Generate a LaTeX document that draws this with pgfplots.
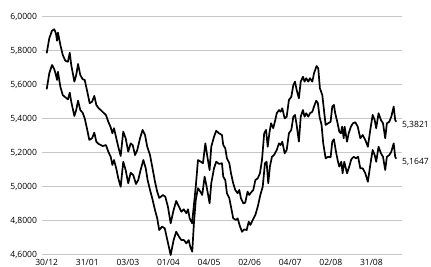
\documentclass[border=0pt]{standalone}
\usepackage{fontspec}
\setmainfont{Open Sans}
\usepackage{pgfplots}
\usepackage{pgfplotstable}
\pgfplotsset{compat=1.18}

\pgfplotstableread{
d v
0 5.785
1.4 5.873
2.9 5.918
4.1 5.926
5.0 5.902
5.6 5.859
6.1 5.906
7.4 5.834
8.7 5.775
10.1 5.741
11.5 5.735
12.5 5.788
13.3 5.716
15.0 5.618
16.0 5.657
17.0 5.722
18.2 5.657
19.5 5.632
20.6 5.628
21.8 5.569
23.3 5.491
24.6 5.500
25.8 5.534
26.9 5.481
28.2 5.461
29.3 5.451
30.4 5.439
32.1 5.422
33.4 5.382
34.7 5.349
35.6 5.314
36.5 5.344
37.6 5.291
38.8 5.235
40.1 5.181
41.5 5.324
42.8 5.285
44.2 5.206
45.5 5.255
46.6 5.245
47.9 5.186
49.1 5.216
50.6 5.285
52.0 5.334
53.3 5.304
54.5 5.235
56.0 5.186
57.2 5.118
58.7 5.029
59.9 4.971
61.0 4.934
61.9 4.941
63.0 4.951
64.3 4.941
65.7 4.882
67.2 4.785
68.8 4.863
70.2 4.916
71.7 4.882
73.0 4.853
74.3 4.867
75.7 4.844
76.6 4.867
77.5 4.814
78.8 4.785
79.7 4.882
80.8 5.000
82.0 5.157
83.5 5.147
84.7 5.138
86.0 5.255
87.1 5.176
88.3 5.098
89.2 5.235
90.7 5.294
91.9 5.329
93.4 5.314
95.0 5.304
95.7 5.245
96.8 5.226
97.7 5.167
99.0 5.138
99.9 5.079
101.1 5.020
102.2 4.981
103.5 4.961
104.4 4.981
105.3 4.932
106.6 4.902
107.6 4.906
108.9 4.971
109.8 4.951
110.7 4.965
112.0 4.981
113.1 5.039
114.4 5.049
115.6 5.079
116.7 5.157
117.9 5.314
118.9 5.334
119.8 5.235
120.7 5.314
121.6 5.373
122.8 5.344
123.9 5.392
124.7 5.432
125.9 5.451
126.8 5.441
127.7 5.461
129.0 5.402
130.1 5.412
131.3 5.510
132.6 5.529
133.7 5.598
134.6 5.618
135.5 5.569
136.7 5.520
137.7 5.618
138.9 5.647
139.8 5.618
140.7 5.638
141.8 5.618
142.7 5.638
144.0 5.618
144.9 5.667
146.3 5.710
147.2 5.696
148.1 5.579
149.4 5.539
150.3 5.451
151.2 5.363
152.5 5.373
153.9 5.382
154.8 5.471
155.7 5.481
156.4 5.432
157.7 5.373
158.6 5.324
159.5 5.314
160.1 5.353
161.0 5.285
161.5 5.353
162.8 5.265
163.7 5.314
164.9 5.353
166.0 5.373
167.3 5.379
168.6 5.353
170.0 5.285
171.3 5.304
172.7 5.275
174.1 5.235
175.4 5.334
176.7 5.422
177.8 5.392
178.6 5.344
179.9 5.432
181.2 5.392
182.3 5.373
183.5 5.285
184.4 5.373
185.7 5.382
186.8 5.412
188.1 5.471
188.9 5.392
189.5 5.3821
}\upperdata

\pgfplotstableread{
d v
0 5.573
1.4 5.667
2.9 5.716
4.1 5.691
5.0 5.657
5.6 5.628
6.1 5.676
7.4 5.588
8.7 5.539
10.1 5.526
11.5 5.514
12.5 5.553
13.3 5.500
15.0 5.416
16.0 5.451
17.0 5.506
18.2 5.451
19.5 5.435
20.6 5.402
21.8 5.344
23.1 5.275
24.6 5.285
25.8 5.318
26.9 5.265
28.2 5.251
29.3 5.245
30.4 5.239
32.1 5.245
33.4 5.206
34.7 5.176
35.6 5.128
36.5 5.157
37.9 5.098
38.8 5.049
40.1 5.000
41.5 5.147
42.8 5.098
44.2 5.020
45.5 5.082
46.9 5.069
48.4 5.016
49.6 5.039
50.9 5.098
52.4 5.157
53.7 5.108
54.7 5.039
56.0 4.981
57.2 4.932
58.7 4.863
59.9 4.814
61.0 4.745
62.5 4.765
64.0 4.755
65.4 4.686
67.2 4.598
68.8 4.686
70.2 4.735
71.7 4.706
73.0 4.686
74.4 4.686
75.7 4.667
77.0 4.686
77.8 4.647
78.9 4.618
79.8 4.785
80.8 4.922
82.0 4.991
83.3 4.971
84.3 4.951
85.6 5.059
86.7 5.000
88.3 4.902
89.2 5.020
90.7 5.108
91.9 5.147
93.4 5.134
95.0 5.138
95.7 5.059
96.8 5.039
97.7 4.961
99.0 4.932
99.9 4.882
101.1 4.814
102.6 4.804
103.5 4.814
104.8 4.765
105.9 4.735
107.1 4.749
108.4 4.745
109.5 4.794
110.4 4.775
111.7 4.804
113.1 4.834
114.4 4.882
115.8 4.951
117.1 5.000
118.3 5.138
119.2 5.147
120.1 5.020
121.0 5.118
122.1 5.176
123.2 5.186
124.7 5.216
125.9 5.255
126.8 5.245
127.7 5.265
129.0 5.196
130.1 5.216
131.3 5.314
132.6 5.334
133.7 5.412
134.6 5.422
135.5 5.363
136.7 5.265
137.7 5.412
138.9 5.451
139.8 5.412
140.7 5.432
141.8 5.412
142.7 5.432
144.0 5.441
144.9 5.471
146.1 5.506
147.0 5.491
147.9 5.412
149.0 5.363
149.9 5.255
151.2 5.167
152.5 5.176
153.9 5.173
154.8 5.265
155.7 5.279
156.8 5.206
157.9 5.147
158.6 5.118
159.7 5.147
160.4 5.079
161.3 5.147
162.8 5.079
164.0 5.118
165.1 5.161
166.4 5.176
167.7 5.167
168.8 5.176
170.0 5.108
171.3 5.108
172.7 5.079
174.1 5.029
175.4 5.128
176.7 5.216
177.8 5.186
178.6 5.147
179.9 5.235
181.2 5.196
182.3 5.176
183.5 5.098
184.4 5.176
185.7 5.186
186.8 5.206
188.1 5.255
188.9 5.176
189.5 5.1647
}\lowerdata

\begin{document}
\begin{tikzpicture}
\path[use as bounding box, clip] (0,0) rectangle (431bp,267bp);
\begin{axis}[
  at={(42bp,12.3bp)}, anchor=south west,
  scale only axis, width=360bp, height=238bp,
  xmin=-2.55, xmax=192.6,
  ymin=4.6, ymax=6.0,
  xtick={0,22,44,66,88,110,132,154,176},
  xticklabels={30/12,31/01,03/03,01/04,04/05,02/06,04/07,02/08,31/08},
  ytick={4.6,4.8,5.0,5.2,5.4,5.6,5.8,6.0},
  ymajorgrids, major grid style={draw=black!22, line width=0.9bp},
  axis line style={draw=none},
  major tick length=0pt,
  tick label style={font=\fontsize{8.6}{10}\selectfont, text=black},
  /pgf/number format/assume math mode=true,
  yticklabel={\pgfmathprintnumber[fixed, fixed zerofill, precision=4, use comma]{\tick}},
  yticklabel style={anchor=east, xshift=-1.5bp},
  xticklabel style={anchor=base, yshift=-10.3bp},
  clip=false,
]
\addplot[black, line width=1.7bp, line join=round] table[x=d, y=v] {\upperdata};
\addplot[black, line width=1.7bp, line join=round] table[x=d, y=v] {\lowerdata};
\node[anchor=west, font=\fontsize{8.6}{10}\selectfont, text=black, inner sep=0pt] at (axis cs:192.6,5.362) {5,3821};
\node[anchor=west, font=\fontsize{8.6}{10}\selectfont, text=black, inner sep=0pt] at (axis cs:192.6,5.143) {5,1647};
\end{axis}
\end{tikzpicture}
\end{document}
